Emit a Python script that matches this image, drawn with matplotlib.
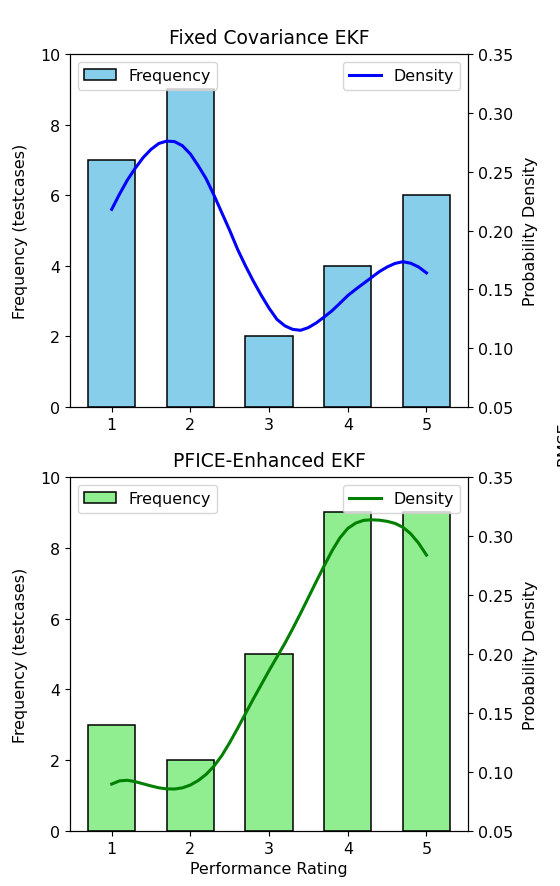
import matplotlib
matplotlib.use("Agg")
import matplotlib.pyplot as plt

ratings = [1, 2, 3, 4, 5]
fixed_counts = [7, 9, 2, 4, 6]
pfice_counts = [3, 2, 5, 9, 9]

fixed_kde_x = [1.0, 1.1, 1.2, 1.3, 1.4, 1.5, 1.6, 1.7, 1.8, 1.9, 2.0, 2.1, 2.2, 2.3,
               2.4, 2.5, 2.6, 2.7, 2.8, 2.9, 3.0, 3.1, 3.2, 3.3, 3.4, 3.5, 3.6, 3.7,
               3.8, 3.9, 4.0, 4.1, 4.2, 4.3, 4.4, 4.5, 4.6, 4.7, 4.8, 4.9, 5.0]
fixed_kde_y = [0.218, 0.231, 0.243, 0.253, 0.262, 0.269, 0.274, 0.276, 0.2755, 0.272,
               0.265, 0.255, 0.244, 0.230, 0.215, 0.200, 0.184, 0.170, 0.157, 0.145,
               0.134, 0.1245, 0.119, 0.1160, 0.1152, 0.1175, 0.1215, 0.1265, 0.1318,
               0.1382, 0.1447, 0.150, 0.155, 0.160, 0.165, 0.169, 0.172, 0.1735,
               0.1722, 0.169, 0.164]

pfice_kde_x = [1.0, 1.1, 1.2, 1.3, 1.4, 1.5, 1.6, 1.7, 1.8, 1.9, 2.0, 2.1, 2.2, 2.3,
               2.4, 2.5, 2.6, 2.7, 2.8, 2.9, 3.0, 3.1, 3.2, 3.3, 3.4, 3.5, 3.6, 3.7,
               3.8, 3.9, 4.0, 4.1, 4.2, 4.3, 4.4, 4.5, 4.6, 4.7, 4.8, 4.9, 5.0]
pfice_kde_y = [0.0898, 0.0925, 0.0930, 0.0918, 0.0900, 0.0882, 0.0866, 0.0857, 0.0856,
               0.0866, 0.0890, 0.0928, 0.0980, 0.1050, 0.1140, 0.1250, 0.1370, 0.1495,
               0.1620, 0.1740, 0.1860, 0.1975, 0.2090, 0.2215, 0.2345, 0.2480, 0.2615,
               0.2748, 0.2875, 0.2985, 0.3065, 0.3110, 0.3133, 0.3138, 0.3135, 0.3125,
               0.3108, 0.3075, 0.3020, 0.2940, 0.2839]

panels = [
    ("Fixed Covariance EKF", fixed_counts, fixed_kde_x, fixed_kde_y, "skyblue", "blue"),
    ("PFICE-Enhanced EKF", pfice_counts, pfice_kde_x, pfice_kde_y, "lightgreen", "green"),
]

plt.rcParams["font.size"] = 11.4

fig = plt.figure(figsize=(5.6, 8.87), dpi=100)
boxes = [[0.125, 0.540, 0.711, 0.398], [0.125, 0.062, 0.711, 0.399]]

for i, (title, counts, kx, ky, bc, lc) in enumerate(panels):
    ax = fig.add_axes(boxes[i])
    ax.bar(ratings, counts, width=0.6, color=bc, edgecolor="black", linewidth=1.1,
           label="Frequency")
    ax.set_xlim(0.47, 5.53)
    ax.set_ylim(0, 10)
    ax.set_xticks(ratings)
    ax.set_ylabel("Frequency (testcases)", labelpad=9)
    ax.set_title(title, fontsize=13.5, pad=8)
    ax.legend(loc="upper left")
    if i == 1:
        ax.set_xlabel("Performance Rating")
    ax2 = ax.twinx()
    ax2.plot(kx, ky, color=lc, lw=2.2, label="Density")
    ax2.set_ylim(0.05, 0.35)
    ax2.set_ylabel("Probability Density", labelpad=7)
    ax2.legend(loc="upper right")

fig.text(0.994, 0.5, "RMSE", rotation=90, ha="left", va="center", fontsize=11.4)

fig.savefig("out.png", dpi=100)
